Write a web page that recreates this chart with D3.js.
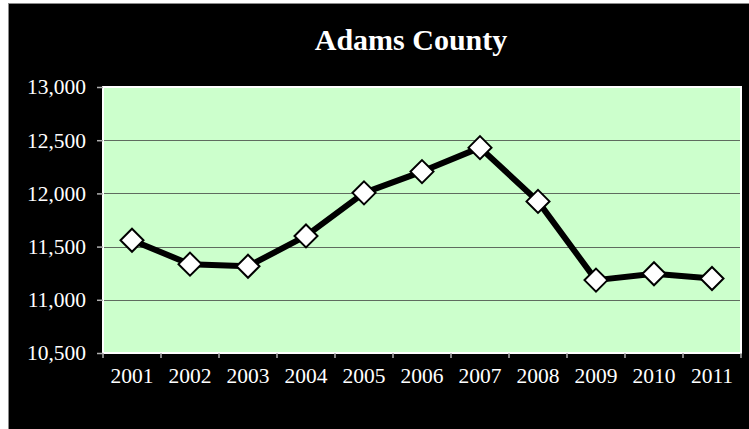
<!DOCTYPE html>
<html>
<head>
<meta charset="utf-8">
<script src="https://cdn.jsdelivr.net/npm/d3@7"></script>
<style>
  html, body { margin: 0; padding: 0; background: #ffffff; }
  svg { display: block; }
  svg text { font-family: "Liberation Serif", "Times New Roman", Times, "DejaVu Serif", serif; }
</style>
</head>
<body>
<script>
// Annual values for Adams County
const years = ["2001","2002","2003","2004","2005","2006","2007","2008","2009","2010","2011"];
const values = [11560, 11335, 11315, 11600, 12005, 12205, 12430, 11925, 11185, 11245, 11200];
const yTicks = [10500, 11000, 11500, 12000, 12500, 13000];
const title = "Adams County";

const W = 749, H = 429;
const plot = { left: 103, right: 741, top: 87, bottom: 353 };

const svg = d3.select("body").append("svg")
  .attr("width", W).attr("height", H);

// Black chart frame
svg.append("rect")
  .attr("x", 8.5).attr("y", 3.5)
  .attr("width", W - 8).attr("height", H - 3)
  .attr("fill", "#000").attr("stroke", "#8a8a8a").attr("stroke-width", 1);

const x = d3.scaleBand().domain(years).range([plot.left, plot.right]);
const y = d3.scaleLinear().domain([10500, 13000]).range([plot.bottom, plot.top]);

// Plot background
svg.append("rect")
  .attr("x", plot.left).attr("y", plot.top)
  .attr("width", plot.right - plot.left).attr("height", plot.bottom - plot.top)
  .attr("fill", "#ccffcc");

// Horizontal gridlines
svg.append("g").selectAll("line")
  .data(yTicks.filter(t => t > 10500 && t < 13000))
  .join("line")
  .attr("x1", plot.left).attr("x2", plot.right)
  .attr("y1", d => Math.round(y(d)) + 0.5).attr("y2", d => Math.round(y(d)) + 0.5)
  .attr("stroke", "#5f6b5f").attr("stroke-width", 1.2);

// Plot border
svg.append("rect")
  .attr("x", plot.left).attr("y", plot.top)
  .attr("width", plot.right - plot.left).attr("height", plot.bottom - plot.top)
  .attr("fill", "none").attr("stroke", "#ffffff").attr("stroke-width", 2);

// Y axis
const yAxis = svg.append("g")
  .attr("transform", `translate(${plot.left},0)`)
  .call(d3.axisLeft(y).tickValues(yTicks).tickFormat(d3.format(",")).tickSize(6).tickPadding(11));
yAxis.attr("font-family", null);
yAxis.select(".domain").remove();
yAxis.selectAll(".tick line").attr("stroke", "#b0b0b0").attr("stroke-width", 1.5);
yAxis.selectAll(".tick text")
  .attr("fill", "#ffffff").style("font-size", "21.5px");

// X axis with ticks on category boundaries
const xAxis = svg.append("g")
  .attr("transform", `translate(0,${plot.bottom})`)
  .call(d3.axisBottom(x).tickSize(0).tickPadding(15));
xAxis.attr("font-family", null);
xAxis.select(".domain").remove();
xAxis.selectAll(".tick text")
  .attr("fill", "#ffffff").style("font-size", "21.5px");
const bounds = years.map(d => x(d)).concat([x(years[years.length - 1]) + x.bandwidth()]);
svg.append("g").selectAll("line")
  .data(bounds).join("line")
  .attr("x1", d => d).attr("x2", d => d)
  .attr("y1", plot.bottom).attr("y2", plot.bottom + 5)
  .attr("stroke", "#b0b0b0").attr("stroke-width", 1.5);

// Series line
const cx = d => x(d) + x.bandwidth() / 2;
const pts = years.map((d, i) => [cx(d), y(values[i])]);
svg.append("path")
  .datum(pts)
  .attr("d", d3.line())
  .attr("fill", "none").attr("stroke", "#000").attr("stroke-width", 6)
  .attr("stroke-linejoin", "round");

// Diamond markers
const r = 11.5;
svg.append("g").selectAll("path")
  .data(pts).join("path")
  .attr("d", p => `M${p[0]},${p[1] - r}L${p[0] + r},${p[1]}L${p[0]},${p[1] + r}L${p[0] - r},${p[1]}Z`)
  .attr("fill", "#ffffff").attr("stroke", "#000").attr("stroke-width", 2);

// Title
svg.append("text")
  .attr("x", (plot.left + plot.right) / 2 - 11).attr("y", 50)
  .attr("text-anchor", "middle")
  .attr("fill", "#ffffff")
  .style("font-weight", "bold").style("font-size", "30px")
  .text(title);
</script>
</body>
</html>
